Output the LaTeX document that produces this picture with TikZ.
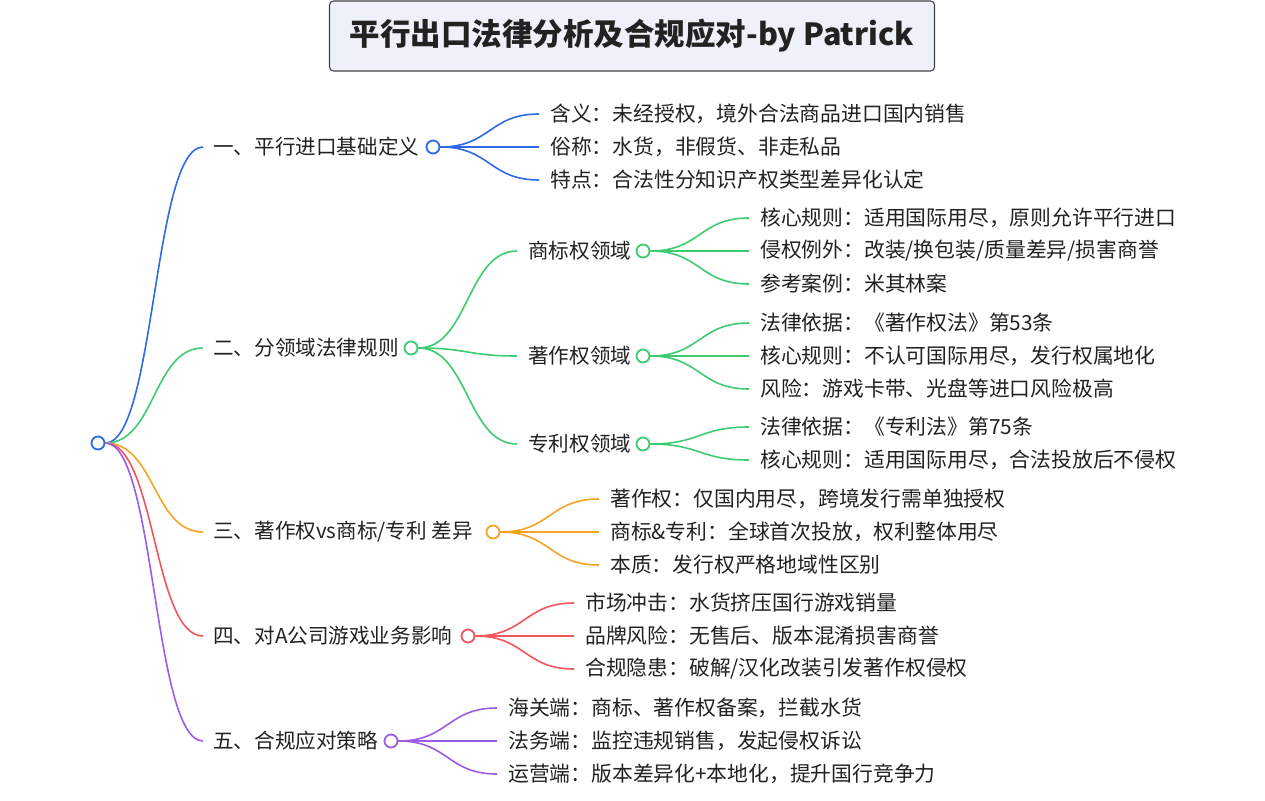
\documentclass[tikz,border=0pt]{standalone}
\usepackage{fontspec}
\setmainfont{Noto Sans CJK SC}
\usetikzlibrary{positioning}
\definecolor{mapblue}{HTML}{2F6BE6}
\definecolor{mapgreen}{HTML}{3FCB72}
\definecolor{maporange}{HTML}{F5A524}
\definecolor{mapred}{HTML}{F0565A}
\definecolor{mappurple}{HTML}{9B5DE5}
\definecolor{inktext}{HTML}{222222}
\definecolor{titlefill}{HTML}{EEF1FA}
\begin{document}
\begin{tikzpicture}[x=1pt,y=-1pt,
  titlebox/.style={draw=inktext!85,fill=titlefill,line width=1.1pt,rounded corners=4pt,minimum width=605pt,minimum height=70pt,text=inktext,font=\fontsize{30.5}{34}\selectfont\bfseries},
  topic/.style={anchor=west,inner sep=0pt,text=inktext,font=\fontsize{20.6}{25}\selectfont},
  leaf/.style={anchor=west,inner sep=0pt,text=inktext,font=\fontsize{20.8}{25}\selectfont},
  knot/.style={circle,draw=#1,fill=white,line width=1.8pt,minimum size=13pt,inner sep=0pt},
  wire/.style={draw=#1,line width=1.6pt},
  branch/.style={to path={.. controls +(50,0) and +(-50,0) .. (\tikztotarget)}}]
\fill[white] (0,0) rectangle (1265,800);
\useasboundingbox (0,0) rectangle (1265,800);
\node[titlebox] (title) at (632,36) {平行出口法律分析及合规应对-by Patrick};
\node[knot=mapblue] (root) at (98,443) {};
\node[topic] (b1) at (213,147) {一、平行进口基础定义};
\node[topic] (b2) at (213,348) {二、分领域法律规则};
\node[topic] (b3) at (213,532) {三、著作权vs商标/专利 差异};
\node[topic] (b4) at (213,636) {四、对A公司游戏业务影响};
\node[topic] (b5) at (213,741) {五、合规应对策略};
\node[knot=mapblue] (k1) at (433,147) {};
\node[knot=mapgreen] (k2) at (411,348) {};
\node[knot=maporange] (k3) at (493,532) {};
\node[knot=mapred] (k4) at (468,636) {};
\node[knot=mappurple] (k5) at (391,741) {};
\node[leaf] (d1) at (550,114) {含义：未经授权，境外合法商品进口国内销售};
\node[leaf] (d2) at (550,147) {俗称：水货，非假货、非走私品};
\node[leaf] (d3) at (550,180) {特点：合法性分知识产权类型差异化认定};
\node[topic] (s1) at (528,251) {商标权领域};
\node[topic] (s2) at (528,356) {著作权领域};
\node[topic] (s3) at (528,444) {专利权领域};
\node[knot=mapgreen] (m1) at (643,251) {};
\node[knot=mapgreen] (m2) at (643,356) {};
\node[knot=mapgreen] (m3) at (643,444) {};
\node[leaf] (t1) at (760,218) {核心规则：适用国际用尽，原则允许平行进口};
\node[leaf] (t2) at (760,251) {侵权例外：改装/换包装/质量差异/损害商誉};
\node[leaf] (t3) at (760,284) {参考案例：米其林案};
\node[leaf] (c1) at (760,323) {法律依据：《著作权法》第53条};
\node[leaf] (c2) at (760,356) {核心规则：不认可国际用尽，发行权属地化};
\node[leaf] (c3) at (760,389) {风险：游戏卡带、光盘等进口风险极高};
\node[leaf] (p1) at (760,427) {法律依据：《专利法》第75条};
\node[leaf] (p2) at (760,460) {核心规则：适用国际用尽，合法投放后不侵权};
\node[leaf] (x1) at (610,499) {著作权：仅国内用尽，跨境发行需单独授权};
\node[leaf] (x2) at (610,532) {商标\&专利：全球首次投放，权利整体用尽};
\node[leaf] (x3) at (610,565) {本质：发行权严格地域性区别};
\node[leaf] (i1) at (585,603) {市场冲击：水货挤压国行游戏销量};
\node[leaf] (i2) at (585,636) {品牌风险：无售后、版本混淆损害商誉};
\node[leaf] (i3) at (585,669) {合规隐患：破解/汉化改装引发著作权侵权};
\node[leaf] (r1) at (508,708) {海关端：商标、著作权备案，拦截水货};
\node[leaf] (r2) at (508,741) {法务端：监控违规销售，发起侵权诉讼};
\node[leaf] (r3) at (508,774) {运营端：版本差异化+本地化，提升国行竞争力};
\draw[wire=mapblue] (root.east) to[branch] ([xshift=-10pt]b1.west);
\draw[wire=mapgreen] (root.east) to[branch] ([xshift=-10pt]b2.west);
\draw[wire=maporange] (root.east) to[branch] ([xshift=-10pt]b3.west);
\draw[wire=mapred] (root.east) to[branch] ([xshift=-10pt]b4.west);
\draw[wire=mappurple] (root.east) to[branch] ([xshift=-10pt]b5.west);
\draw[wire=mapblue] (k1.east) to[branch] ([xshift=-11pt]d1.west);
\draw[wire=mapblue] (k1.east) to[branch] ([xshift=-11pt]d2.west);
\draw[wire=mapblue] (k1.east) to[branch] ([xshift=-11pt]d3.west);
\draw[wire=mapgreen] (k2.east) to[branch] ([xshift=-11pt]s1.west);
\draw[wire=mapgreen] (k2.east) to[branch] ([xshift=-11pt]s2.west);
\draw[wire=mapgreen] (k2.east) to[branch] ([xshift=-11pt]s3.west);
\draw[wire=mapgreen] (m1.east) to[branch] ([xshift=-11pt]t1.west);
\draw[wire=mapgreen] (m1.east) to[branch] ([xshift=-11pt]t2.west);
\draw[wire=mapgreen] (m1.east) to[branch] ([xshift=-11pt]t3.west);
\draw[wire=mapgreen] (m2.east) to[branch] ([xshift=-11pt]c1.west);
\draw[wire=mapgreen] (m2.east) to[branch] ([xshift=-11pt]c2.west);
\draw[wire=mapgreen] (m2.east) to[branch] ([xshift=-11pt]c3.west);
\draw[wire=mapgreen] (m3.east) to[branch] ([xshift=-11pt]p1.west);
\draw[wire=mapgreen] (m3.east) to[branch] ([xshift=-11pt]p2.west);
\draw[wire=maporange] (k3.east) to[branch] ([xshift=-11pt]x1.west);
\draw[wire=maporange] (k3.east) to[branch] ([xshift=-11pt]x2.west);
\draw[wire=maporange] (k3.east) to[branch] ([xshift=-11pt]x3.west);
\draw[wire=mapred] (k4.east) to[branch] ([xshift=-11pt]i1.west);
\draw[wire=mapred] (k4.east) to[branch] ([xshift=-11pt]i2.west);
\draw[wire=mapred] (k4.east) to[branch] ([xshift=-11pt]i3.west);
\draw[wire=mappurple] (k5.east) to[branch] ([xshift=-11pt]r1.west);
\draw[wire=mappurple] (k5.east) to[branch] ([xshift=-11pt]r2.west);
\draw[wire=mappurple] (k5.east) to[branch] ([xshift=-11pt]r3.west);
\end{tikzpicture}
\end{document}
